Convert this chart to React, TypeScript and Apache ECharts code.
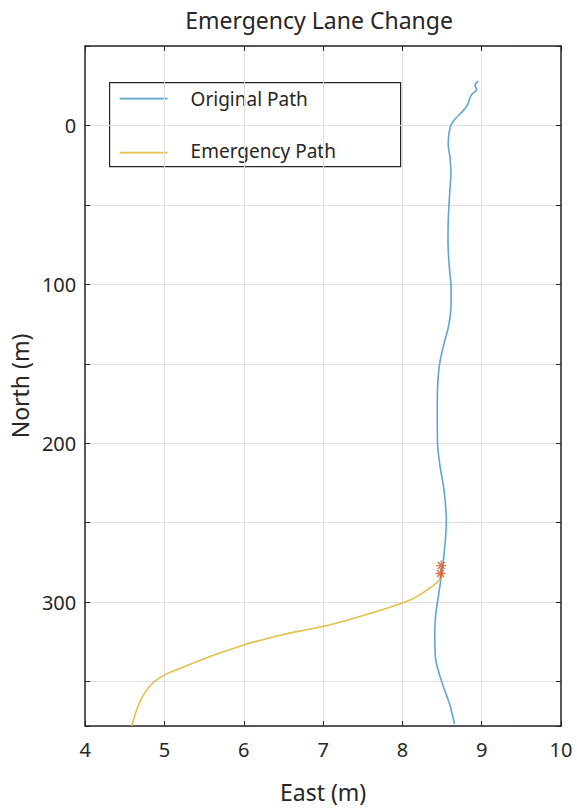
import React, { useEffect, useRef } from "react";
import * as echarts from "echarts";

// Original path (East, North) in metres
const originalEast = [
  8.956, 8.915, 8.936, 8.874, 8.844, 8.824, 8.762, 8.679, 8.616, 8.588, 8.578,
  8.6, 8.612, 8.6, 8.588, 8.578, 8.575, 8.585, 8.6, 8.612, 8.614, 8.605,
  8.575, 8.533, 8.475, 8.452, 8.442, 8.44, 8.442, 8.471, 8.526, 8.554, 8.533,
  8.5, 8.451, 8.42, 8.408, 8.417, 8.492, 8.595, 8.657,
];
const originalNorth = [
  -27.9, -25.4, -22.6, -19.5, -16.4, -13.2, -9.0, -4.8, -0.6, 4.7, 12,
  20, 30.8, 40, 49.7, 60, 72.8, 85, 93.7, 100, 110, 118.9,
  128, 135.7, 148.3, 158, 167.1, 180, 198.6, 213.2, 230, 248.9, 265.7,
  280.4, 297.2, 308, 318.1, 335, 349.6, 364.2, 376.8,
];

// Emergency path (East, North) in metres
const emergencyEast = [
  8.48, 8.471, 8.326, 8.159, 8.015, 7.704, 7.288, 7.01, 6.665, 6.499, 6.25,
  6.0, 5.669, 5.254, 4.996, 4.839, 4.715, 4.631, 4.59,
];
const emergencyNorth = [
  283, 285.6, 291.9, 297.2, 300.3, 305.5, 311.6, 315.2, 318.6, 320.4, 323.5,
  327.0, 332.6, 340.5, 346.0, 351.6, 360.1, 370.5, 378,
];

// Lane-change trigger points
const triggerEast = [8.49, 8.48];
const triggerNorth = [277, 282];

const legendNames = ["Original Path", "Emergency Path"];

const BLUE = "#5ea7cd";
const YELLOW = "#e2c04a";
const ORANGE = "#d95319";
const INK = "#262626";
const FONT = "Noto Sans";

const pairs = (xs: number[], ys: number[]) => xs.map((x, i) => [x, ys[i]]);

const asterisk =
  "path://M0,-5L0,5M-5,0L5,0M-3.5,-3.5L3.5,3.5M-3.5,3.5L3.5,-3.5";

export default function App() {
  const ref = useRef<HTMLDivElement>(null);

  useEffect(() => {
    if (!ref.current) return;
    const chart = echarts.init(ref.current, undefined, { renderer: "svg" });

    const axisLine = { show: true, onZero: false, lineStyle: { color: INK, width: 1.5 } };
    const axisTick = { show: true, inside: true, length: 5, lineStyle: { color: INK, width: 1 } };
    const splitLine = { show: true, lineStyle: { color: "#e0e0e0", width: 1 } };

    chart.setOption({
      animation: false,
      backgroundColor: "#ffffff",
      title: {
        text: "Emergency Lane Change",
        left: 314,
        top: 3,
        textAlign: "center",
        textStyle: { fontFamily: FONT, fontSize: 23, fontWeight: "normal", color: INK },
      },
      grid: { left: 79, right: 16, top: 46, bottom: 82 },
      xAxis: [
        {
          type: "value",
          min: 4,
          max: 10,
          interval: 1,
          position: "bottom",
          name: "East (m)",
          nameLocation: "middle",
          nameGap: 54,
          nameTextStyle: { fontFamily: FONT, fontSize: 23, color: INK },
          axisLine,
          axisTick,
          splitLine,
          axisLabel: { fontFamily: FONT, fontSize: 20, color: INK, margin: 13 },
        },
        {
          type: "value",
          min: 4,
          max: 10,
          interval: 1,
          position: "top",
          axisLine,
          axisTick,
          splitLine: { show: false },
          axisLabel: { show: false },
        },
      ],
      yAxis: [
        {
          type: "value",
          inverse: true,
          min: -50,
          max: 378,
          interval: 50,
          position: "left",
          name: "North (m)",
          nameLocation: "middle",
          nameGap: 45,
          nameTextStyle: { fontFamily: FONT, fontSize: 23, color: INK },
          axisLine,
          axisTick,
          splitLine,
          axisLabel: {
            fontFamily: FONT,
            fontSize: 20,
            color: INK,
            margin: 9,
            formatter: (v: number) => (v >= 0 && v % 100 === 0 ? String(v) : ""),
          },
        },
        {
          type: "value",
          inverse: true,
          min: -50,
          max: 378,
          interval: 50,
          position: "right",
          axisLine,
          axisTick,
          splitLine: { show: false },
          axisLabel: { show: false },
        },
      ],
      series: [
        {
          name: legendNames[0],
          type: "line",
          xAxisIndex: 0,
          yAxisIndex: 0,
          data: pairs(originalEast, originalNorth),
          showSymbol: false,
          smooth: 0.35,
          lineStyle: { color: BLUE, width: 1.6 },
          z: 3,
        },
        {
          name: legendNames[1],
          type: "line",
          xAxisIndex: 0,
          yAxisIndex: 0,
          data: pairs(emergencyEast, emergencyNorth),
          showSymbol: false,
          smooth: 0.4,
          lineStyle: { color: YELLOW, width: 1.6 },
          z: 3,
        },
        {
          name: "Trigger",
          type: "scatter",
          xAxisIndex: 0,
          yAxisIndex: 0,
          data: pairs(triggerEast, triggerNorth),
          symbol: asterisk,
          symbolSize: 10,
          itemStyle: { color: "none", borderColor: ORANGE, borderWidth: 1.3 },
          z: 4,
        },
      ],
      graphic: [
        {
          type: "group",
          left: 109,
          top: 82,
          z: 10,
          children: [
            {
              type: "rect",
              shape: { x: 0, y: 0, width: 291, height: 84 },
              style: { fill: "#ffffff", stroke: INK, lineWidth: 1.2 },
            },
            {
              type: "line",
              shape: { x1: 10, y1: 16, x2: 58, y2: 16 },
              style: { stroke: BLUE, lineWidth: 1.6 },
            },
            {
              type: "text",
              x: 81,
              y: 16,
              style: {
                text: legendNames[0],
                fontFamily: FONT,
                fontSize: 19,
                fill: INK,
                verticalAlign: "middle",
              },
            },
            {
              type: "line",
              shape: { x1: 10, y1: 70, x2: 58, y2: 70 },
              style: { stroke: YELLOW, lineWidth: 1.6 },
            },
            {
              type: "text",
              x: 81,
              y: 68,
              style: {
                text: legendNames[1],
                fontFamily: FONT,
                fontSize: 19,
                fill: INK,
                verticalAlign: "middle",
              },
            },
          ],
        },
      ],
    });

    return () => chart.dispose();
  }, []);

  return (
    <div
      ref={ref}
      style={{ position: "fixed", left: 0, top: 0, width: 577, height: 808 }}
    />
  );
}
